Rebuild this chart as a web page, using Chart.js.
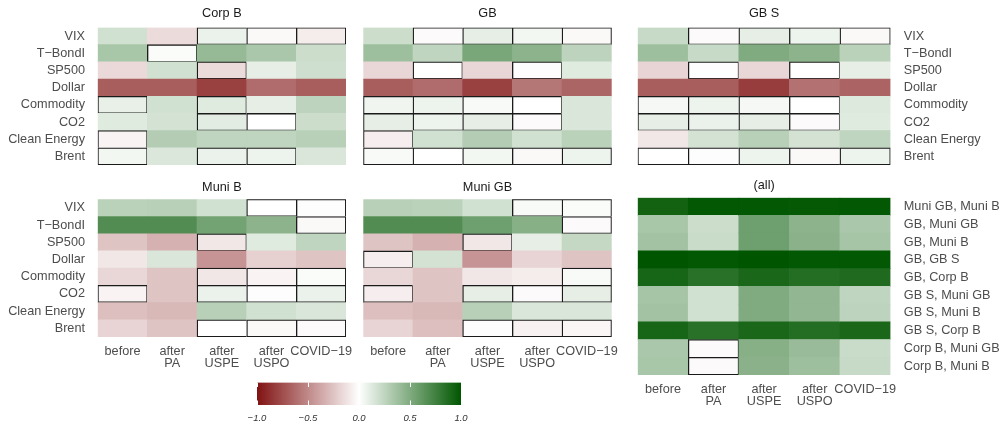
<!DOCTYPE html>
<html>
<head>
<meta charset="utf-8">
<script src="https://cdn.jsdelivr.net/npm/chart.js@4.4.1/dist/chart.umd.min.js"></script>
<style>
  html, body { margin: 0; padding: 0; background: #fff; }
  #wrap { position: relative; width: 1007px; height: 428px; overflow: hidden; }
  #wrap canvas { position: absolute; left: 0; top: 0; width: 1007px; height: 428px; }
</style>
</head>
<body>
<div id="wrap">
  <canvas id="corpB" width="1007" height="428"></canvas>
  <canvas id="gb" width="1007" height="428"></canvas>
  <canvas id="gbS" width="1007" height="428"></canvas>
  <canvas id="muniB" width="1007" height="428"></canvas>
  <canvas id="muniGB" width="1007" height="428"></canvas>
  <canvas id="pairsAll" width="1007" height="428"></canvas>
  <canvas id="scale" width="1007" height="428"></canvas>
</div>
<script>
// ---- data -------------------------------------------------------------
const periods = ["before", "after PA", "after USPE", "after USPO", "COVID−19"];
const periodTicks = [["before"], ["after", "PA"], ["after", "USPE"], ["after", "USPO"], ["COVID−19"]];

const factors = ["VIX", "T−BondI", "SP500", "Dollar", "Commodity", "CO2", "Clean Energy", "Brent"];
const pairs = ["Muni GB, Muni B", "GB, Muni GB", "GB, Muni B", "GB, GB S", "GB, Corp B",
               "GB S, Muni GB", "GB S, Muni B", "GB S, Corp B", "Corp B, Muni GB", "Corp B, Muni B"];

// correlations, one row per factor, one column per period
const corpB = [
  [0.18, -0.15, 0.08, -0.03, -0.08],
  [0.34, 0.02, 0.41, 0.33, 0.20],
  [-0.16, 0.18, -0.15, 0.10, 0.19],
  [-0.68, -0.68, -0.80, -0.62, -0.68],
  [0.09, 0.18, 0.12, 0.10, 0.26],
  [0.12, 0.17, 0.11, 0.00, 0.20],
  [-0.05, 0.30, 0.25, 0.25, 0.28],
  [0.05, 0.14, 0.08, 0.07, 0.15]
];
const gb = [
  [0.20, -0.02, 0.10, 0.05, -0.03],
  [0.38, 0.25, 0.52, 0.45, 0.26],
  [-0.17, 0.00, -0.17, 0.01, 0.12],
  [-0.68, -0.62, -0.80, -0.58, -0.65],
  [0.06, 0.07, 0.03, 0.00, 0.15],
  [0.10, 0.07, 0.10, -0.02, 0.15],
  [-0.07, 0.18, 0.30, 0.18, 0.27],
  [0.03, 0.00, 0.05, -0.03, 0.07]
];
const gbS = [
  [0.22, -0.02, 0.10, 0.07, -0.03],
  [0.38, 0.22, 0.50, 0.45, 0.27],
  [-0.18, -0.01, -0.17, 0.00, 0.10],
  [-0.68, -0.68, -0.82, -0.60, -0.66],
  [0.04, 0.07, 0.04, 0.00, 0.13],
  [0.10, 0.08, 0.10, -0.02, 0.12],
  [-0.10, 0.17, 0.28, 0.17, 0.25],
  [0.00, -0.01, 0.07, -0.03, 0.07]
];
const muniB = [
  [0.27, 0.28, 0.18, 0.00, 0.01],
  [0.68, 0.68, 0.55, 0.45, -0.03],
  [-0.25, -0.33, -0.10, 0.12, 0.25],
  [-0.10, 0.15, -0.45, -0.20, -0.25],
  [-0.17, -0.25, -0.10, -0.05, 0.02],
  [-0.05, -0.25, 0.08, 0.01, 0.08],
  [-0.27, -0.30, 0.28, 0.18, 0.15],
  [-0.18, -0.25, 0.00, -0.03, -0.02]
];
const muniGB = [
  [0.28, 0.27, 0.18, 0.03, 0.02],
  [0.68, 0.68, 0.57, 0.47, -0.02],
  [-0.25, -0.33, -0.10, 0.10, 0.23],
  [-0.07, 0.17, -0.45, -0.18, -0.25],
  [-0.17, -0.25, -0.10, -0.08, 0.03],
  [-0.07, -0.25, 0.10, -0.02, 0.10],
  [-0.27, -0.30, 0.28, 0.15, 0.15],
  [-0.18, -0.27, -0.01, -0.06, -0.04]
];
const pairCorr = [
  [0.93, 0.99, 0.99, 0.98, 0.99],
  [0.34, 0.20, 0.57, 0.45, 0.33],
  [0.36, 0.21, 0.57, 0.46, 0.35],
  [1.00, 0.99, 1.00, 0.99, 0.99],
  [0.91, 0.84, 0.90, 0.86, 0.88],
  [0.35, 0.18, 0.50, 0.43, 0.25],
  [0.36, 0.18, 0.50, 0.43, 0.26],
  [0.91, 0.84, 0.90, 0.86, 0.90],
  [0.33, -0.02, 0.47, 0.40, 0.21],
  [0.34, -0.02, 0.46, 0.38, 0.22]
];

// 1 = not significant (cell is outlined)
const corpBNs = [
  [0,0,1,1,1],[0,1,0,0,0],[0,0,1,0,0],[0,0,0,0,0],
  [1,0,1,0,0],[0,0,1,1,0],[1,0,0,0,0],[1,0,1,1,0]
];
const gbNs = [
  [0,1,1,1,1],[0,0,0,0,0],[0,1,0,1,0],[0,0,0,0,0],
  [1,1,1,1,0],[1,1,1,1,0],[1,0,0,0,0],[1,1,1,1,1]
];
const gbSNs = [
  [0,1,1,1,1],[0,0,0,0,0],[0,1,0,1,0],[0,0,0,0,0],
  [1,1,1,1,0],[1,1,1,1,0],[0,0,0,0,0],[1,1,1,1,1]
];
const muniBNs = [
  [0,0,0,1,1],[0,0,0,0,1],[0,0,1,0,0],[0,0,0,0,0],
  [0,0,1,1,1],[1,0,1,1,1],[0,0,0,0,0],[0,0,1,1,1]
];
const muniGBNs = [
  [0,0,0,1,1],[0,0,0,0,1],[0,0,1,0,0],[1,0,0,0,0],
  [0,0,0,0,1],[1,0,1,1,1],[0,0,0,0,0],[0,0,1,1,1]
];
const pairNs = [
  [0,0,0,0,0],[0,0,0,0,0],[0,0,0,0,0],[0,0,0,0,0],[0,0,0,0,0],
  [0,0,0,0,0],[0,0,0,0,0],[0,0,0,0,0],[0,1,0,0,0],[0,1,0,0,0]
];

// colour key
const scaleRange = [-1, 1];
const scaleTicks = [-1, -0.5, 0, 0.5, 1];

// ---- drawing ----------------------------------------------------------
const W = 1007, H = 428;
const FONT = "'Liberation Sans', Arial, sans-serif";
const LABEL = '#4d4d4d';
const NEG = [128, 18, 18];   // -1
const POS = [0, 86, 0];      // +1

function heat(v) {
  const t = Math.max(-1, Math.min(1, v));
  const end = t < 0 ? NEG : POS;
  const a = Math.abs(t);
  const ch = end.map(e => Math.round(255 + (e - 255) * a));
  return `rgb(${ch[0]},${ch[1]},${ch[2]})`;
}

// outline sides of a non-significant cell; shared edges drawn once
function edgeWidths(ns, i, c, w) {
  if (!ns[i][c]) return 0;
  const below = i + 1 < ns.length && ns[i + 1][c];
  const right = c + 1 < ns[i].length && ns[i][c + 1];
  return { top: w, left: w, bottom: below ? 0 : w, right: right ? 0 : w };
}

const panelTitle = {
  id: 'panelTitle',
  afterDraw(chart, args, opts) {
    const { ctx, chartArea: a } = chart;
    ctx.save();
    ctx.font = `12.7px ${FONT}`;
    ctx.fillStyle = '#1a1a1a';
    ctx.textAlign = 'center';
    ctx.textBaseline = 'alphabetic';
    ctx.fillText(opts.text, (a.left + a.right) / 2, a.top - opts.gap);
    ctx.restore();
  }
};

function heatPanel(id, cfg) {
  const [L, T, R, B] = cfg.area;
  const labelW = cfg.side === 'left' ? 90 : (cfg.side === 'right' ? 110 : 0);
  const xH = cfg.showX ? 40 : 0;
  const pad = {
    left: cfg.side === 'left' ? L - labelW : L,
    right: cfg.side === 'right' ? W - R - labelW : W - R,
    top: T,
    bottom: H - B - xH
  };
  return new Chart(document.getElementById(id), {
    type: 'bar',
    data: {
      labels: cfg.rows,
      datasets: periods.map((p, c) => ({
        label: p,
        order: periods.length - c,
        data: cfg.rows.map(() => [c, c + 1]),
        backgroundColor: cfg.rows.map((_, i) => heat(cfg.values[i][c])),
        borderColor: '#1a1a1a',
        borderWidth: cfg.rows.map((_, i) => edgeWidths(cfg.ns, i, c, 1.3)),
        borderSkipped: false,
        grouped: false,
        barPercentage: 1,
        categoryPercentage: 1
      }))
    },
    options: {
      indexAxis: 'y',
      responsive: false,
      animation: false,
      events: [],
      layout: { padding: pad },
      plugins: {
        legend: { display: false },
        tooltip: { enabled: false },
        panelTitle: { text: cfg.title, gap: cfg.titleGap }
      },
      scales: {
        x: {
          type: 'linear', min: 0, max: periods.length,
          display: cfg.showX,
          grid: { display: false, drawTicks: false },
          border: { display: false },
          afterBuildTicks: s => { s.ticks = periodTicks.map((_, i) => ({ value: i + 0.5 })); },
          afterFit: s => { s.height = xH; },
          ticks: {
            autoSkip: false, maxRotation: 0, minRotation: 0, padding: 8.6,
            color: LABEL, font: { family: FONT, size: 12.7, lineHeight: 0.92 },
            callback: (v, i) => periodTicks[i]
          }
        },
        y: {
          type: 'category',
          position: cfg.side || 'left',
          display: !!cfg.side,
          offset: true,
          grid: { display: false, drawTicks: false },
          border: { display: false },
          afterFit: s => { s.width = labelW; },
          ticks: {
            autoSkip: false,
            padding: cfg.side === 'right' ? 13.3 : 12.7,
            color: LABEL, font: { family: FONT, size: 12.7 }
          }
        }
      }
    },
    plugins: [panelTitle]
  });
}

heatPanel('corpB',  { title: 'Corp B',  rows: factors, values: corpB,  ns: corpBNs,  area: [97.7, 27.5, 346, 165],   side: 'left',  showX: false, titleGap: 10.2 });
heatPanel('gb',     { title: 'GB',      rows: factors, values: gb,     ns: gbNs,     area: [363.3, 27.5, 611.7, 165], side: null,    showX: false, titleGap: 10.2 });
heatPanel('gbS',    { title: 'GB S',    rows: factors, values: gbS,    ns: gbSNs,    area: [637.7, 27.5, 890.5, 165], side: 'right', showX: false, titleGap: 10.2 });
heatPanel('muniB',  { title: 'Muni B',  rows: factors, values: muniB,  ns: muniBNs,  area: [97.7, 199.3, 346, 337],   side: 'left',  showX: true,  titleGap: 8.6 });
heatPanel('muniGB', { title: 'Muni GB', rows: factors, values: muniGB, ns: muniGBNs, area: [363.3, 199.3, 611.7, 337], side: null,   showX: true,  titleGap: 8.6 });
heatPanel('pairsAll', { title: '(all)', rows: pairs,   values: pairCorr, ns: pairNs, area: [637.7, 197.7, 890.5, 375], side: 'right', showX: true, titleGap: 8.4 });

// colour key with short white ticks on the bar
const keyMarks = {
  id: 'keyMarks',
  afterDatasetsDraw(chart) {
    const { ctx, chartArea: a, scales: { x } } = chart;
    ctx.save();
    ctx.strokeStyle = '#ffffff';
    ctx.lineWidth = 1;
    scaleTicks.forEach(v => {
      const px = Math.round(x.getPixelForValue(v)) + 0.5;
      ctx.beginPath();
      ctx.moveTo(px, a.top); ctx.lineTo(px, a.top + 4.5);
      ctx.moveTo(px, a.bottom - 4.5); ctx.lineTo(px, a.bottom);
      ctx.stroke();
    });
    ctx.restore();
  }
};

const KEY = { left: 257, top: 382.5, right: 461, bottom: 405, axisH: 22 };
new Chart(document.getElementById('scale'), {
  type: 'bar',
  data: {
    labels: ['r'],
    datasets: [{
      data: [scaleRange],
      backgroundColor: ctx => {
        const chart = ctx.chart;
        const a = chart.chartArea;
        if (!a) return null;
        const x = chart.scales.x;
        const g = chart.ctx.createLinearGradient(a.left, 0, a.right, 0);
        scaleTicks.forEach(v => {
          g.addColorStop((x.getPixelForValue(v) - a.left) / (a.right - a.left), heat(v));
        });
        return g;
      },
      borderWidth: 0,
      barPercentage: 1,
      categoryPercentage: 1
    }]
  },
  options: {
    indexAxis: 'y',
    responsive: false,
    animation: false,
    events: [],
    layout: { padding: { left: KEY.left, right: W - KEY.right, top: KEY.top, bottom: H - KEY.bottom - KEY.axisH } },
    plugins: { legend: { display: false }, tooltip: { enabled: false } },
    scales: {
      x: {
        type: 'linear', min: scaleRange[0], max: scaleRange[1],
        grid: { display: false, drawTicks: false },
        border: { display: false },
        afterBuildTicks: s => { s.ticks = scaleTicks.map(v => ({ value: v })); },
        afterFit: s => { s.height = KEY.axisH; },
        ticks: {
          padding: 7.3, color: '#333333',
          font: { family: FONT, size: 9.5, style: 'italic' },
          callback: v => Number(v).toFixed(1).replace('-', '−')
        }
      },
      y: { display: false }
    }
  },
  plugins: [keyMarks]
});
</script>
</body>
</html>
